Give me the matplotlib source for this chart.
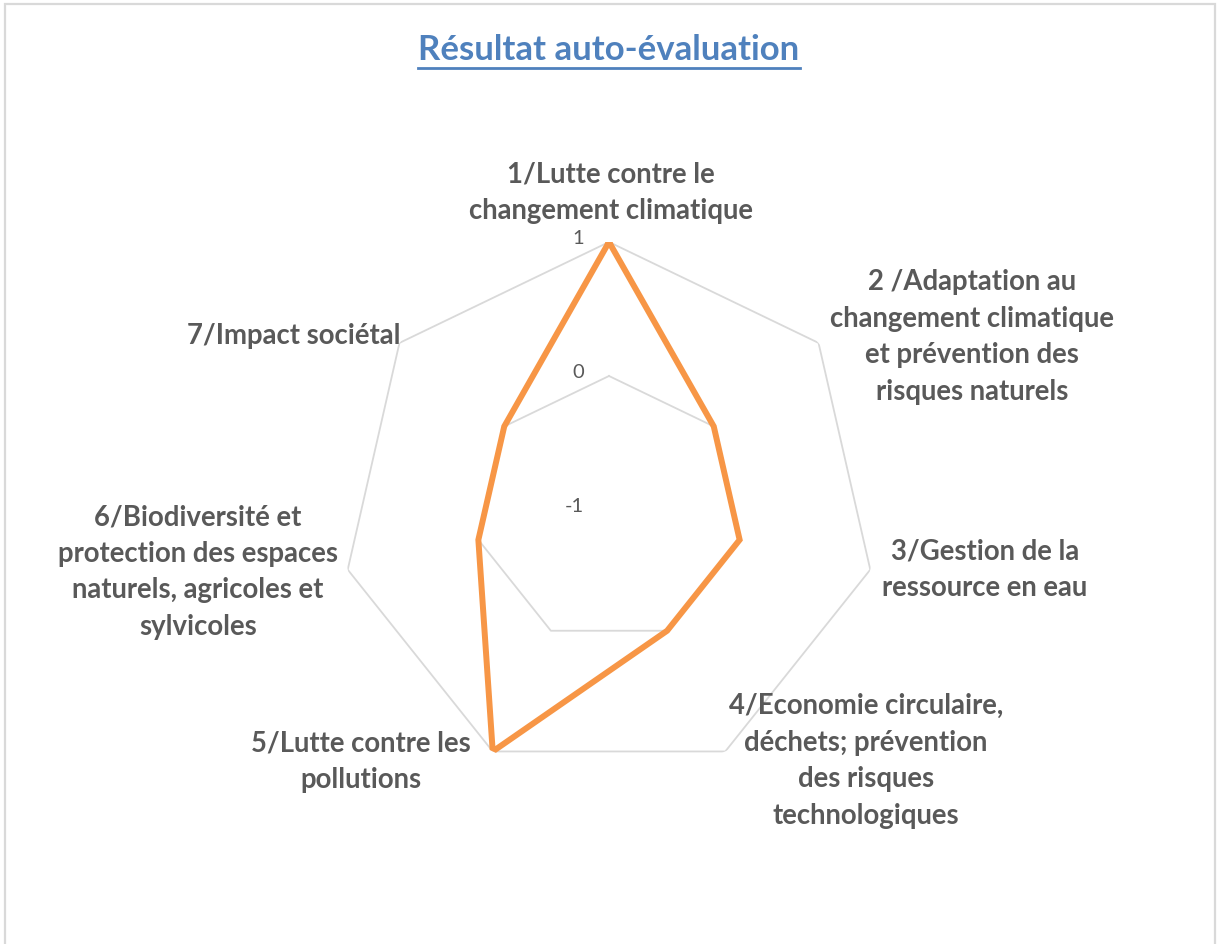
import numpy as np
import matplotlib
matplotlib.use("Agg")
import matplotlib.pyplot as plt
from matplotlib.patches import Rectangle
from matplotlib.lines import Line2D

categories = [
    "1/Lutte contre le\nchangement climatique",
    "2 /Adaptation au\nchangement climatique\net prévention des\nrisques naturels",
    "3/Gestion de la\nressource en eau",
    "4/Economie circulaire,\ndéchets; prévention\ndes risques\ntechnologiques",
    "5/Lutte contre les\npollutions",
    "6/Biodiversité et\nprotection des espaces\nnaturels, agricoles et\nsylvicoles",
    "7/Impact sociétal",
]
values = [1, 0, 0, 0, 1, 0, 0]
grid_levels = [0, 1]
tick_values = [1, 0, -1]
tick_labels = ["1", "0", "-1"]
title = "Résultat auto-évaluation"

label_color = "#595959"
grid_color = "#D9D9D9"
line_color = "#F79646"
title_color = "#4F81BD"
font = "Lato"

W, H = 1224, 945
fig = plt.figure(figsize=(W / 100, H / 100), dpi=100)

# chart frame
fig.patches.append(Rectangle((5 / W, -0.02), 1210 / W, 1 - 5 / H + 0.02,
                             transform=fig.transFigure, fill=False,
                             edgecolor=grid_color, lw=1.6))

cx, cy, R = 609, 945 - 511, 268
ax = fig.add_axes([(cx - R) / W, (cy - R) / H, 2 * R / W, 2 * R / H],
                  projection="polar")
ax.set_theta_offset(np.pi / 2)
ax.set_theta_direction(-1)
ax.set_ylim(-1, 1)
ax.grid(False)
ax.spines["polar"].set_visible(False)
ax.set_xticks([])
ax.set_yticks([])
ax.patch.set_alpha(0)

n = len(categories)
theta = np.arange(n) * 2 * np.pi / n
theta_c = np.append(theta, theta[0])

for lvl in grid_levels:
    ax.plot(theta_c, np.full(n + 1, lvl), color=grid_color, lw=1.3, zorder=1)

vals = np.append(values, values[0])
ax.plot(theta_c, vals, color=line_color, lw=4.3, zorder=3,
        solid_joinstyle="miter")

for tv, tl in zip(tick_values, tick_labels):
    ax.annotate(tl, xy=(0, tv), xytext=(-18, 3), textcoords="offset points",
                ha="right", va="center", fontsize=14.5, color=label_color,
                family=font)

# category label positions (pixel centers from reference)
label_pos = [(611, 193), (972, 337), (985, 570), (866, 761),
             (361, 762), (198, 572), (294, 336)]
for lab, (px, py) in zip(categories, label_pos):
    fig.text(px / W, 1 - py / H, lab, ha="center", va="center",
             fontsize=19.8, fontweight="bold", color=label_color,
             family=font, linespacing=1.5)

t = fig.text(609 / W, 1 - 50 / H, title, ha="center", va="center",
             fontsize=25, fontweight="bold", color=title_color, family=font)
fig.canvas.draw()
bb = t.get_window_extent().transformed(fig.transFigure.inverted())
uy = bb.y0 - 3 / H
fig.add_artist(Line2D([bb.x0, bb.x1], [uy, uy], transform=fig.transFigure,
                      color=title_color, lw=2))

fig.savefig("out.png", dpi=100, facecolor="white")
